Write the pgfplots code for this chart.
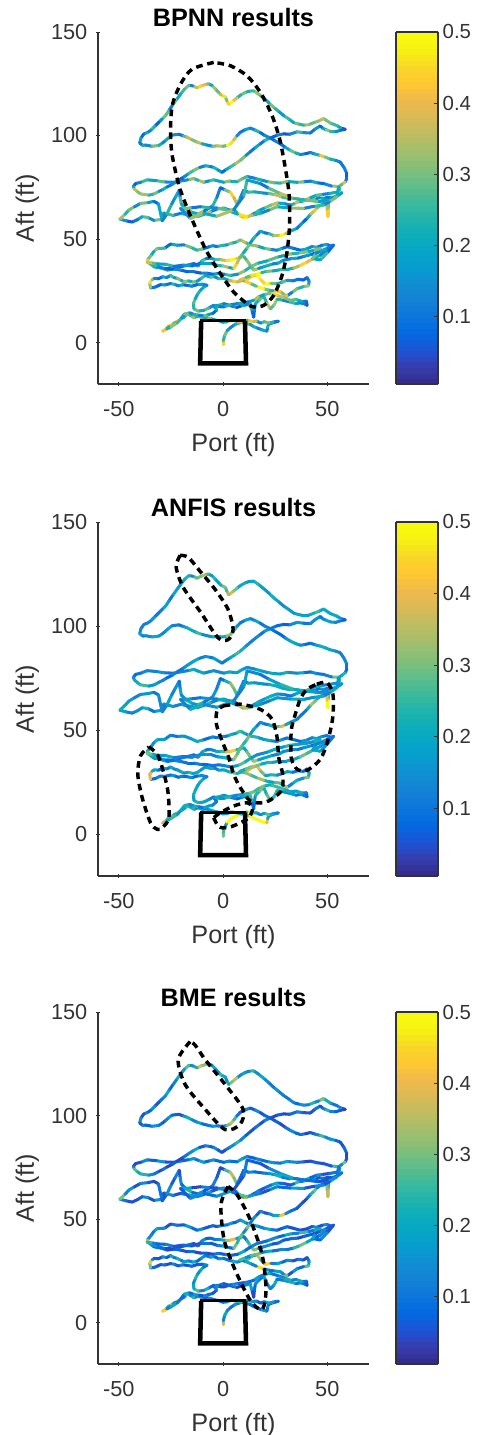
\documentclass[border=0pt]{standalone}
\usepackage{pgfplots}
\usepackage{pgfplotstable}
\usepackage{fontspec}
\setmainfont{Liberation Sans}
\pgfplotsset{compat=1.18}
\pgfplotstableread{
x y a b c
0.2 -1 .44 .30 .36
0.1 1 .24 .26 .12
0.8 3.5 .3 .2 .2
2 5.8 .18 .5 .12
3.5 7.2 .12 .5 .09
5.5 8.6 .2 .5 .16
7 9.2 .26 .5 .1
9 9.8 .12 .45 .06
11 9.2 .28 .32 .14
13 8.8 .16 .5 .08
14.5 7.8 .22 .5 .12
16.5 7 .12 .5 .06
18.5 6.2 .2 .5 .18
21 5.5 .14 .4 .1
21.4 7.5 .24 .2 .14
21.8 8.8 .15 .16 .07
24 9.6 .18 .2 .12
26.5 10.3 .1 .12 .09
24 9.9 .24 .2 .16
22 9.4 .3 .28 .2
19.8 10.1 .26 .18 .1
18 9.4 .14 .14 .06
16 10.4 .36 .22 .14
14 10.2 .42 .5 .2
11.5 10.8 .24 .26 .1
9 9.8 .4 .2 .26
6.5 10.4 .22 .28 .12
4 10.8 .44 .24 .3
2 10 .24 .18 .14
0 9.8 .18 .15 .09
-2 10.6 .3 .22 .18
-4 11 .2 .2 .1
-6 11.6 .32 .18 .14
-8 12.2 .2 .12 .08
-10 12 .28 .2 .18
-12 12.8 .24 .14 .12
-14 12 .34 .24 .24
-15.5 13 .26 .2 .14
-17 13.8 .3 .26 .28
-18.5 12.4 .2 .18 .1
-20 11.5 .36 .26 .22
-21.5 10.4 .4 .3 .3
-23 9.8 .28 .22 .14
-24.5 8.6 .44 .35 .34
-26 8 .3 .26 .2
-27.5 6.4 .46 .42 .4
-29 5.5 .42 .36 .44
-27 6.6 .22 .2 .12
-25 7.6 .32 .26 .2
-22 9.5 .26 .16 .1
-20 11.8 .18 .2 .08
-18.5 13.8 .3 .22 .22
-16 14.4 .14 .14 .08
-14 13.6 .24 .22 .18
-11.5 13.2 .12 .1 .05
-9 12.8 .28 .2 .12
-7 13.6 .16 .18 .08
-5 14 .08 .12 .05
-3 15.8 .2 .1 .12
-4.5 17.6 .14 .16 .07
-2 18 .24 .2 .1
0.3 18.8 .1 .16 .05
3 18 .06 .1 .04
5 17.4 .16 .14 .1
6.7 17 .04 .08 .03
9 17.8 .2 .16 .09
11 18.2 .12 .2 .12
13 18.8 .24 .26 .18
14 15 .08 .1 .05
14.7 12.3 .07 .08 .04
15 15.5 .12 .14 .08
15.5 18.8 .22 .24 .14
17.5 20.8 .3 .3 .1
19.5 22.4 .24 .22 .18
21 19 .36 .28 .14
22.7 16.3 .28 .18 .12
24.5 18.2 .34 .26 .2
25.9 21 .24 .2 .1
29 20.4 .12 .14 .16
32.3 19.6 .26 .18 .24
35 18.8 .18 .1 .1
37 19.2 .1 .14 .14
38.7 18.8 .14 .1 .09
40.3 18 .05 .08 .05
40 20 .1 .12 .09
38 19.8 .2 .22 .2
35 20.8 .28 .18 .12
32.3 20.4 .3 .2 .22
29 21.8 .36 .26 .14
25.9 22.8 .44 .26 .1
22.5 23.8 .3 .22 .2
19.5 23.1 .2 .3 .12
17 22 .34 .26 .18
14.7 20.4 .18 .3 .08
12 19.6 .1 .24 .12
9.5 19.2 .2 .2 .06
6.7 18.8 .12 .14 .14
3.5 18.2 .24 .24 .07
0.3 17.2 .1 .15 .04
-2.5 17.4 .2 .2 .14
-4.5 18 .14 .12 .07
-7 16.6 .28 .18 .22
-9.3 15.5 .2 .2 .12
-12 15.2 .3 .24 .28
-14 16.3 .24 .18 .2
-14.2 19 .28 .22 .14
-13.3 21.2 .2 .2 .24
-12.2 23.4 .24 .18 .14
-10.9 25.2 .18 .22 .2
-9.3 26.8 .22 .16 .09
-7.7 27.7 .12 .12 .12
-10 28.2 .18 .14 .07
-12.5 28 .08 .08 .05
-15 27.2 .14 .14 .09
-17.3 27.7 .06 .08 .04
-19.5 27.9 .2 .12 .12
-21.5 27.4 .12 .08 .06
-23.5 28.2 .24 .16 .14
-25.2 28.5 .1 .1 .05
-28 27.8 .18 .14 .1
-30 28 .07 .12 .05
-32.5 26.8 .1 .08 .08
-34.8 26.4 .32 .4 .3
-35.2 28.8 .46 .38 .42
-34 30.4 .3 .2 .14
-33 31 .12 .2 .06
-31 30.8 .08 .08 .05
-29 31.8 .2 .22 .14
-27 31.4 .12 .1 .06
-25.2 32.4 .26 .2 .2
-23.5 31.4 .16 .14 .1
-22 31 .3 .18 .22
-20 30 .2 .22 .1
-18.8 29.4 .32 .16 .18
-16.5 29.8 .22 .24 .12
-14.5 29.2 .3 .18 .2
-12.5 29.6 .16 .2 .08
-10.5 31 .26 .16 .16
-8.5 32.4 .2 .18 .1
-6 31.6 .28 .22 .2
-4 31.8 .14 .12 .07
-2 30.8 .26 .18 .16
0.3 31 .2 .2 .09
3 30 .34 .24 .12
5 29.6 .44 .3 .22
6.7 29.2 .36 .22 .14
9 30 .48 .42 .32
11.5 30.4 .44 .4 .26
14 32.2 .38 .3 .14
16.3 32.8 .5 .4 .36
18 30.4 .44 .3 .2
20.3 28.2 .5 .2 .44
23 28.6 .3 .24 .12
25.9 28.4 .22 .14 .18
28.5 29.2 .28 .2 .08
30.7 30.1 .16 .18 .14
33.5 29.8 .1 .1 .05
36 30.6 .08 .14 .1
38.5 30.2 .06 .06 .04
40.3 31.4 .1 .12 .07
41.3 29.6 .18 .2 .18
41 27.4 .34 .3 .28
38.5 27 .24 .16 .08
35.5 26 .3 .22 .16
33 24.2 .12 .12 .05
30.7 22.6 .4 .36 .3
29 23.4 .3 .2 .12
27.5 24.6 .42 .28 .18
24 25 .24 .18 .09
21.5 25.4 .3 .22 .14
19.5 26 .5 .34 .46
16 27.2 .28 .26 .12
13 28.6 .44 .32 .2
10 29.8 .3 .26 .1
8 30.2 .4 .22 .26
11 31.4 .28 .3 .14
13.5 32.4 .46 .34 .28
16.3 33 .5 .3 .3
18.5 33.8 .24 .2 .12
21 34.4 .3 .24 .2
24 34.6 .2 .18 .09
27.5 35.2 .26 .14 .14
30.5 35.2 .22 .2 .1
33.9 36 .34 .2 .24
37 37.2 .44 .3 .3
40.3 38.9 .4 .26 .2
43 40.4 .24 .18 .08
46.6 42.2 .12 .16 .14
49.5 44.4 .18 .12 .06
52.2 46.4 .08 .12 .08
49.8 47.4 .2 .1 .14
47.5 47 .1 .16 .05
45 46 .24 .2 .14
42.7 46.4 .14 .12 .06
40 45.2 .2 .16 .04
37 44.6 .08 .08 .06
33.5 45.6 .12 .14 .05
30.7 46.3 .07 .1 .08
28 45.4 .22 .18 .06
25.9 44.6 .12 .12 .1
22.5 45 .3 .2 .2
19.5 45.6 .2 .16 .12
16.5 46.6 .32 .24 .18
13.1 47.2 .26 .18 .1
10.5 48.4 .36 .22 .2
8.3 49.6 .3 .26 .12
6 48.4 .22 .16 .07
4 48 .3 .22 .16
2 47.2 .16 .1 .09
0.3 47 .24 .16 .12
-3 46.4 .1 .1 .05
-5 46.8 .16 .14 .08
-6.9 46.2 .08 .08 .06
-10 45.2 .3 .22 .14
-12.5 44.6 .24 .2 .08
-15.5 46 .3 .16 .16
-18.8 47.2 .12 .16 .06
-22 47 .2 .1 .1
-25.2 47.6 .08 .12 .05
-28 45.6 .26 .18 .14
-31.6 45.4 .32 .22 .2
-33.2 44 .2 .14 .1
-34.6 42 .3 .2 .14
-36.4 39.8 .44 .26 .36
-34.8 37.8 .3 .2 .2
-33.2 36.6 .2 .16 .09
-30 36 .28 .2 .14
-26.8 35 .16 .12 .05
-23 35.6 .1 .08 .06
-20.4 36.6 .07 .1 .04
-17 37.4 .12 .14 .08
-14 38.2 .08 .06 .04
-12 37 .2 .16 .1
-10 39.6 .26 .2 .14
-8 40.6 .1 .1 .06
-6.1 40.8 .18 .14 .09
-3.5 40 .28 .2 .12
-1 40 .36 .26 .2
1.5 39.6 .46 .38 .34
3.5 39.8 .5 .44 .4
6.5 40.6 .42 .24 .16
9.9 41.6 .26 .2 .1
11.5 39.6 .32 .3 .24
12.8 37.6 .28 .3 .3
14.7 35 .34 .34 .32
17 35.8 .16 .18 .1
19.5 36.6 .22 .2 .14
24 38 .12 .12 .05
26.5 38.4 .2 .16 .1
29 39.8 .12 .14 .06
33 40.6 .2 .14 .09
36 40.8 .1 .1 .04
38.7 41.6 .16 .16 .07
42.5 42.6 .08 .1 .05
46.6 44 .2 .14 .14
50 45.6 .12 .1 .06
53 47.1 .08 .1 .05
50 43.4 .26 .16 .14
46.6 39.9 .2 .2 .08
43 40.6 .3 .18 .18
44.5 43 .12 .12 .05
46.6 45.4 .3 .22 .2
43 44.4 .2 .14 .1
40.3 43.8 .32 .18 .26
36 43.2 .24 .2 .12
32.3 42.8 .34 .24 .2
29 42 .18 .16 .07
25.9 41.2 .28 .2 .14
21 39.4 .2 .14 .09
16.3 38.2 .3 .16 .12
13 36.4 .24 .22 .08
10 34.4 .32 .28 .2
7 33 .16 .18 .07
3.5 32.4 .26 .14 .12
0.5 33 .1 .12 .06
-2 33.4 .18 .1 .1
-5 33 .08 .1 .04
-7.7 33.5 .14 .08 .07
-11 33.6 .06 .12 .04
-14 34.2 .1 .08 .09
-17 34.2 .07 .1 .05
-20.4 35 .14 .12 .08
-24 35.6 .06 .08 .04
-28.4 35.8 .12 .14 .09
-32 37 .24 .2 .14
-36.4 38.8 .38 .3 .24
-33.5 38.4 .28 .2 .12
-31.6 38 .18 .16 .08
-27.5 37.8 .24 .2 .12
-23.7 36.8 .1 .12 .05
-19 37.4 .16 .1 .09
-15 37 .08 .14 .05
-10.5 38.4 .2 .16 .1
-6 38.4 .14 .12 .06
-2.5 37.2 .24 .18 .12
0 37 .34 .22 .2
3 36.2 .2 .16 .08
5.1 35.8 .44 .34 .3
6.8 38.5 .36 .28 .24
8 41 .28 .28 .28
9.8 43.4 .2 .24 .14
11.5 45.6 .3 .3 .3
13 48 .16 .16 .1
14.5 50.2 .24 .2 .16
16.2 52 .12 .12 .06
17.9 53.8 .2 .14 .12
20 53 .1 .1 .05
22 52.6 .26 .2 .14
24.5 51.6 .36 .28 .2
27.5 51.6 .5 .38 .42
30 52.6 .36 .2 .14
32.3 53.8 .2 .16 .08
35.5 55.2 .1 .12 .05
37 56.8 .16 .1 .07
38.7 58.4 .07 .1 .04
40.5 60.2 .2 .2 .1
42 62 .36 .34 .24
43.8 63.6 .42 .3 .3
45 65 .32 .24 .12
47.5 66.8 .16 .14 .08
50.6 68 .3 .26 .22
50.4 64.5 .34 .5 .3
50.3 60.8 .44 .5 .36
49.9 64.5 .34 .4 .3
49.8 68.1 .26 .24 .2
52.5 70 .14 .14 .08
55 71 .24 .18 .16
57 72.4 .18 .16 .1
55 71 .3 .22 .14
53 69.6 .16 .14 .06
50.5 70.2 .1 .12 .05
48.2 69.6 .2 .16 .1
46 70 .12 .1 .05
44 69 .3 .18 .16
42 69.4 .18 .16 .07
40.3 68.8 .34 .24 .2
38 68.2 .2 .2 .1
36 68 .38 .2 .26
34 67 .24 .14 .09
32.3 66.4 .12 .1 .05
29 67.2 .2 .14 .09
25.9 67.4 .36 .2 .2
23 66.4 .3 .22 .1
19.5 64.8 .18 .16 .06
17 63.6 .26 .22 .14
15 62.4 .12 .12 .05
13 61.2 .48 .44 .42
11.5 60.6 .5 .46 .36
9.5 60.6 .36 .3 .16
8 61.6 .44 .36 .28
6.5 63 .2 .16 .08
5.1 64 .3 .2 .16
2.5 64.2 .16 .14 .08
0.3 65 .28 .2 .14
-3 64.4 .12 .12 .05
-6.1 63.2 .36 .24 .2
-9 62 .2 .14 .08
-12.5 60.8 .3 .16 .16
-16 61.6 .36 .18 .22
-18.5 62 .22 .2 .1
-20.4 62.4 .12 .12 .05
-24 61.4 .26 .16 .14
-28.4 62.6 .16 .12 .05
-29.6 59.5 .3 .18 .16
-33.2 59 .14 .1 .05
-36 60.4 .28 .22 .14
-38.8 60.8 .2 .16 .07
-41 59.4 .1 .14 .05
-43.6 58.2 .06 .12 .05
-46.5 58.8 .16 .18 .1
-49.5 59.6 .34 .2 .3
-47 62 .24 .18 .12
-45.2 64 .3 .18 .16
-42.5 65.6 .14 .12 .05
-39.6 67.2 .3 .16 .14
-36 67.6 .18 .16 .06
-33.2 68.2 .08 .1 .04
-31 67 .2 .14 .1
-29.2 58.8 .12 .12 .06
-27 62 .24 .18 .14
-24.6 67 .14 .12 .06
-23 70 .2 .16 .12
-21 73.6 .1 .1 .05
-20.6 70 .26 .2 .14
-20 66.8 .2 .14 .09
-17.5 64.4 .3 .22 .24
-14.6 62.8 .2 .16 .08
-12 62.2 .34 .24 .16
-9 63.6 .1 .1 .05
-5 66 .24 .16 .12
-3 70 .12 .12 .06
-1.3 74.8 .07 .08 .04
0.8 73.8 .3 .22 .26
3.5 72.6 .44 .32 .36
5.2 70 .36 .28 .3
6.7 66.8 .3 .22 .14
8.3 70 .14 .14 .08
9.9 73.6 .1 .08 .05
12 72.6 .26 .2 .14
15 72.8 .2 .16 .08
19.5 72.2 .14 .14 .12
22 72 .3 .22 .16
25 71.4 .36 .2 .22
28.5 70.2 .26 .2 .1
32.3 69.4 .44 .24 .2
35.5 69.4 .3 .2 .14
38.7 68.6 .38 .28 .22
42 70 .2 .16 .08
45 71.2 .28 .2 .14
48 71.6 .12 .12 .05
51 72 .22 .16 .1
55.4 72.8 .3 .2 .2
56 74 .26 .24 .14
55.4 75.4 .34 .3 .26
52 75.6 .14 .12 .06
48.2 76.8 .08 .1 .05
45 77.2 .2 .14 .07
41.9 78 .1 .08 .04
38.5 77.6 .3 .2 .1
35.5 77.4 .2 .14 .14
30.7 77.8 .32 .22 .18
27.5 77 .24 .18 .1
24.3 77.2 .3 .2 .16
21 77.8 .16 .16 .08
17.9 78.6 .22 .2 .12
15 79.4 .12 .14 .07
11.5 80.2 .26 .16 .14
9 79 .3 .2 .2
6.7 77.6 .22 .18 .09
3 78 .32 .2 .14
0.3 77.4 .2 .14 .08
-4.5 78.6 .26 .16 .16
-7 78 .16 .14 .08
-9.3 77.4 .34 .2 .18
-12 78.4 .24 .18 .1
-14 79.2 .32 .22 .16
-17 78.6 .14 .12 .07
-20.4 78 .22 .14 .14
-24 77.4 .14 .1 .05
-28.4 77.6 .28 .16 .16
-32 78.2 .18 .12 .07
-36.4 78.6 .26 .14 .14
-39.5 77.4 .12 .1 .05
-42 76.8 .07 .08 .04
-43 75.4 .2 .14 .12
-42.6 74.2 .36 .2 .28
-41 72.8 .3 .22 .2
-39.6 71.8 .34 .26 .24
-35.6 71.2 .24 .16 .14
-33 71.8 .3 .18 .1
-30.8 73 .14 .14 .05
-28.8 74 .22 .12 .1
-26.8 75.2 .1 .08 .04
-24.4 76.4 .14 .12 .07
-22 78 .07 .1 .04
-18.8 80 .14 .16 .1
-16.5 81.6 .26 .18 .14
-14 83.2 .3 .2 .2
-11.2 84.6 .12 .12 .05
-8.5 85.4 .22 .16 .12
-6 85 .1 .1 .05
-4.5 84.6 .24 .18 .14
-2.5 83.4 .16 .14 .07
-0.5 82.2 .08 .1 .04
1.5 83.6 .2 .14 .1
3.5 84.8 .26 .2 .14
6 86.4 .34 .26 .24
8.3 88 .3 .22 .12
11 90.4 .14 .14 .07
13.1 92.2 .1 .12 .05
15.5 94.2 .2 .14 .1
17.9 96 .1 .1 .05
20 97.6 .24 .18 .12
22.7 98.8 .07 .1 .04
26 100.2 .12 .08 .07
29.1 100.8 .05 .07 .04
32 100.6 .14 .14 .09
35.5 101.8 .26 .18 .12
38.5 101.4 .14 .1 .06
41.9 101.2 .1 .14 .05
44 103 .16 .16 .1
46.6 104.6 .08 .1 .05
48 103.4 .2 .14 .12
49.5 102.8 .32 .2 .24
51.5 102 .24 .18 .12
54 101.8 .14 .12 .07
56.5 102.6 .08 .1 .05
58.6 103 .05 .07 .04
56.5 103.6 .2 .18 .14
54.6 104.8 .26 .2 .1
51.5 106 .3 .2 .22
48.2 108.2 .36 .2 .3
45.8 107 .32 .26 .14
43.5 106.2 .28 .22 .24
41 105.2 .34 .18 .12
38.7 105 .24 .18 .16
36 105.6 .3 .2 .08
33.9 106.2 .2 .16 .14
31.5 108 .26 .18 .1
29.1 109.6 .16 .14 .12
26.5 111.8 .24 .2 .16
24.3 113.6 .3 .22 .1
22 115.8 .2 .16 .14
19.5 118 .28 .18 .2
17 120 .32 .24 .14
14.7 121.6 .26 .2 .24
12.5 121.4 .22 .16 .12
10.7 120.8 .3 .22 .18
8.5 119.6 .24 .2 .14
6.7 118.2 .4 .3 .36
4.5 116.4 .5 .38 .3
2.7 115 .44 .34 .22
1.8 116.8 .3 .26 .14
1.1 118.6 .46 .3 .2
-1 119.6 .36 .22 .26
-2.1 120.8 .28 .18 .14
-3.8 122.6 .34 .24 .2
-5.3 124.2 .2 .16 .12
-7 125 .3 .26 .34
-8.5 124.6 .4 .34 .3
-10.5 124 .44 .3 .38
-12.5 123 .36 .28 .22
-14.5 124 .14 .14 .14
-16.5 124.2 .3 .24 .28
-18.5 122.4 .26 .2 .16
-20.4 120 .2 .16 .22
-22.4 117.2 .3 .2 .12
-24.4 114.4 .1 .1 .08
-26 112 .28 .18 .2
-27.6 109.6 .3 .2 .14
-29.2 108 .16 .12 .1
-30.8 106.4 .07 .1 .05
-32.8 104.4 .24 .16 .16
-34.8 102.4 .12 .14 .07
-36.4 101.4 .2 .12 .12
-38 100.8 .08 .12 .05
-39.4 98.8 .18 .14 .14
-40 96.4 .1 .18 .06
-38.5 95.2 .22 .12 .12
-37.2 95.4 .14 .14 .07
-34 94.8 .3 .2 .16
-30.8 95.2 .22 .16 .1
-29 96.4 .12 .12 .06
-27.6 97.6 .2 .16 .12
-26 99 .26 .2 .16
-24.4 100.2 .14 .12 .07
-21.2 100.6 .1 .1 .05
-19 99.8 .28 .16 .16
-17.3 99.2 .36 .22 .22
-15 98 .3 .2 .12
-12.5 96.8 .36 .26 .18
-10 96 .2 .14 .08
-7.7 95.4 .14 .14 .1
-5 94.8 .3 .2 .16
-2.9 95 .36 .22 .1
0 94.8 .28 .2 .14
1.9 95.2 .5 .32 .3
3.6 96 .46 .3 .36
5.1 97.8 .38 .26 .26
6.6 99.8 .14 .14 .1
8.3 101.6 .1 .1 .05
10.6 102.8 .18 .18 .12
13.1 103.6 .12 .12 .06
15.5 102.6 .24 .2 .14
17.9 101.4 .08 .1 .05
20 100 .14 .12 .09
22.7 98.8 .08 .1 .05
25 97.4 .12 .08 .07
27.5 96 .08 .08 .04
30 94.2 .2 .16 .1
32.3 92.8 .3 .2 .14
34.8 91.6 .22 .18 .08
37.1 90.8 .14 .14 .1
39.5 91.2 .07 .08 .04
41.9 91.8 .14 .1 .07
44.2 91 .22 .18 .12
46.6 90.4 .42 .22 .26
49 89.6 .3 .2 .14
51.4 88.6 .22 .18 .16
54 88 .14 .14 .08
56.2 87.2 .1 .12 .05
58 84.6 .12 .14 .09
59.4 81.6 .06 .1 .04
59.4 79.4 .1 .08 .06
58.6 77.6 .4 .24 .3
57 76.4 .28 .2 .14
55.4 75.2 .2 .16 .1
54.6 70.4 .3 .2 .16
51 68 .14 .12 .06
48.2 66.4 .26 .2 .14
43.5 65.8 .12 .14 .05
38.7 64.8 .32 .2 .18
32 65 .2 .16 .08
25.9 65.6 .3 .18 .14
22 64 .14 .12 .05
17.9 62.4 .24 .18 .12
14 61.5 .36 .26 .16
11.5 60.8 .46 .36 .28
7 62 .2 .14 .08
1.9 64 .28 .2 .14
-3 65 .14 .12 .05
-7 65.2 .24 .16 .12
-10.9 65.6 .1 .1 .04
-15.7 65 .3 .18 .2
-20.4 64.8 .14 .12 .06
-15.7 60 .32 .22 .14
-9.3 62.4 .2 .14 .08
-3 61 .34 .2 .16
5 64 .12 .12 .05
10 71 .26 .18 .12
11.5 78.5 .18 .14 .07
17.9 76.8 .1 .1 .05
22 74.5 .28 .18 .14
27.5 72 .36 .24 .2
33.9 69.6 .24 .2 .1
40 68.8 .3 .18 .08
46 68 .18 .14 .05
50 69 .26 .2 .14
}\pathdata
\definecolor{ax}{gray}{0.2}
\pgfplotsset{
  /pgf/number format/assume math mode=true,
  colormap={parula}{
    rgb=(.2081,.1663,.5292) rgb=(.2081,.2386,.6771) rgb=(.1253,.3242,.8303) rgb=(.0060,.4086,.8828)
    rgb=(.0498,.4586,.8641) rgb=(.0779,.5040,.8384) rgb=(.0641,.5570,.8240) rgb=(.0265,.6137,.8135)
    rgb=(.0228,.6535,.7768) rgb=(.0590,.6838,.7254) rgb=(.1453,.7098,.6646) rgb=(.2586,.7317,.5954)
    rgb=(.3953,.7459,.5244) rgb=(.5300,.7491,.4661) rgb=(.6473,.7456,.4188) rgb=(.7525,.7384,.3768)
    rgb=(.8507,.7299,.3360) rgb=(.9450,.7261,.2886) rgb=(.9955,.7861,.1967) rgb=(.9697,.8481,.1475)
    rgb=(.9661,.9514,.0755) rgb=(.9763,.9831,.0538)},
  panel/.style={
    scale only axis, width=203.25pt, height=264pt,
    xmin=-60, xmax=70, ymin=-20, ymax=150,
    xtick={-50,0,50}, ytick={0,50,100,150},
    axis x line=bottom, axis y line=left,
    axis line style={-, ax, line width=0.85pt},
    tick style={ax, line width=0.7pt},
    major tick length=3pt,
    tick label style={font=\fontsize{16.3}{19}\selectfont, text=ax},
    xticklabel style={yshift=-8pt},
    yticklabel style={xshift=-3pt},
    xlabel={Port (ft)}, ylabel={Aft (ft)},
    label style={font=\fontsize{18.9}{22}\selectfont, text=ax},
    xlabel style={at={(axis description cs:0.5,0)}, anchor=center, yshift=-45.5pt},
    ylabel style={at={(axis description cs:0,0.5)}, anchor=center, yshift=53pt},
    title style={font=\fontsize{18.9}{22}\selectfont\bfseries, at={(axis description cs:0.5,1)}, anchor=center, yshift=5pt},
    point meta min=0.005, point meta max=0.5,
    colorbar sampled,
    colorbar style={
      /pgf/number format/assume math mode=true,
      /pgf/number format/fixed, /pgf/number format/precision=1,
      xmin=0, xmax=1, samples=64,
      at={(1.0996,0)}, anchor=south west, width=31.5pt, height=264pt,
      ytick={0.1,0.2,0.3,0.4,0.5},
      ytick pos=right, yticklabel pos=right,
      axis line style={ax, line width=0.85pt},
      tick style={ax, line width=0.7pt}, major tick length=3pt,
      tick label style={font=\fontsize{15.3}{18}\selectfont, text=ax},
      ylabel={}, xlabel={}, title={},
    },
  },
  track/.style={mesh, shader=flat corner, point meta=explicit, line width=2.3pt, line cap=round, line join=round, forget plot},
  box/.style={black, line width=3.4pt, line join=miter, no marks, forget plot},
  boxtop/.style={black, line width=2.2pt, no marks, forget plot},
  lobe/.style={black, line width=2.6pt, dash pattern=on 5pt off 3.6pt, no marks, smooth, forget plot},
}
\begin{document}
\begin{tikzpicture}
\useasboundingbox (0,0) rectangle (363.75pt,1076.25pt);
% panel 1
\begin{axis}[panel, at={(73.5pt,788.25pt)}, anchor=south west, title={BPNN results}]
\addplot[track] table[x=x,y=y,meta=a] {\pathdata};
\addplot[box] coordinates {(-10.5,10.5) (-11,-10) (11,-10) (10.5,10.5)};
\addplot[boxtop] coordinates {(-11,10.5) (11,10.5)};
\addplot[lobe] coordinates {(-4.5,135.3) (-14.9,132) (-20.4,124.8) (-24.4,114.4) (-25.2,101.6) (-24.4,90.4) (-21.2,76) (-17.5,65.7) (-12.7,54.4) (-7.8,43.9) (-1.3,33.3) (5.1,24.4) (11.5,18.8) (14.7,17.2) (19.5,18) (24.3,22.8) (28.3,32.5) (30.7,43.9) (31.9,56.8) (31.8,69.7) (30.7,79.2) (27.5,96.8) (23.5,109.6) (17.9,120.8) (11.5,128.8) (3.5,133.7) (-4.5,135.3)};
\end{axis}
% panel 2
\begin{axis}[panel, at={(73.5pt,419.25pt)}, anchor=south west, height=265.5pt, title={ANFIS results}, colorbar style={height=265.5pt}]
\addplot[track] table[x=x,y=y,meta=b] {\pathdata};
\addplot[box] coordinates {(-10.5,10.5) (-11,-10) (11,-10) (10.5,10.5)};
\addplot[boxtop] coordinates {(-11,10.5) (11,10.5)};
\addplot[lobe] coordinates {(-20.6,134) (-22.5,128.3) (-19.1,118.6) (-11,107) (-2.4,94.4) (2.4,93.5) (4.8,98.3) (2.4,108) (-3.8,117.6) (-11,126.3) (-16.7,133) (-20.6,134)};
\addplot[lobe] coordinates {(0.3,61.7) (8.3,62.5) (17.9,60) (23.5,55.3) (25.9,46.5) (26.7,36.9) (28.6,28.8) (28.3,21.6) (24.3,17.6) (19.5,15.2) (13.1,16) (8.3,22.4) (5.1,28.8) (2.7,36.9) (-0.5,44.9) (-3.2,52.9) (-2.9,59.3) (0.3,61.7)};
\addplot[lobe] coordinates {(45,72.1) (49.8,72.9) (52.7,67.3) (52.6,56.1) (50.2,44.9) (46.6,36) (40.3,30.8) (35.5,31.3) (32.7,36.9) (32.7,49.7) (34.2,56.1) (37,64.9) (40.3,69.7) (45,72.1)};
\addplot[lobe] coordinates {(-35.6,42) (-31.6,38.5) (-29.2,32) (-26.5,20.8) (-26,8) (-29.2,3.2) (-31.6,2.4) (-34.8,5.6) (-38.8,17.6) (-40.9,28.8) (-39.6,37.7) (-35.6,42)};
\addplot[lobe] coordinates {(-4.5,8) (-2.1,3.7) (1.9,3.2) (6.7,4.8) (12.3,8) (14.2,12.8) (11.5,15.2) (5.1,13.6) (-1.3,10.4) (-4.5,8)};
\end{axis}
% panel 3
\begin{axis}[panel, at={(73.5pt,53.25pt)}, anchor=south west, title={BME results}]
\addplot[track] table[x=x,y=y,meta=c] {\pathdata};
\addplot[box] coordinates {(-10.5,10.5) (-11,-10) (11,-10) (10.5,10.5)};
\addplot[boxtop] coordinates {(-11,10.5) (11,10.5)};
\addplot[lobe] coordinates {(-15.8,135.7) (-21.5,127) (-18.2,115) (-8.6,103) (1,93.2) (8.1,95.7) (9.6,103) (1,115) (-8.6,127) (-13.4,134) (-15.8,135.7)};
\addplot[lobe] coordinates {(2.4,65.7) (-1,57) (0.5,40) (5.7,25.6) (12.9,11) (18.7,6.3) (20.6,16) (18.7,32.9) (12.9,50) (6.7,61.8) (2.4,65.7)};
\end{axis}
\end{tikzpicture}
\end{document}
